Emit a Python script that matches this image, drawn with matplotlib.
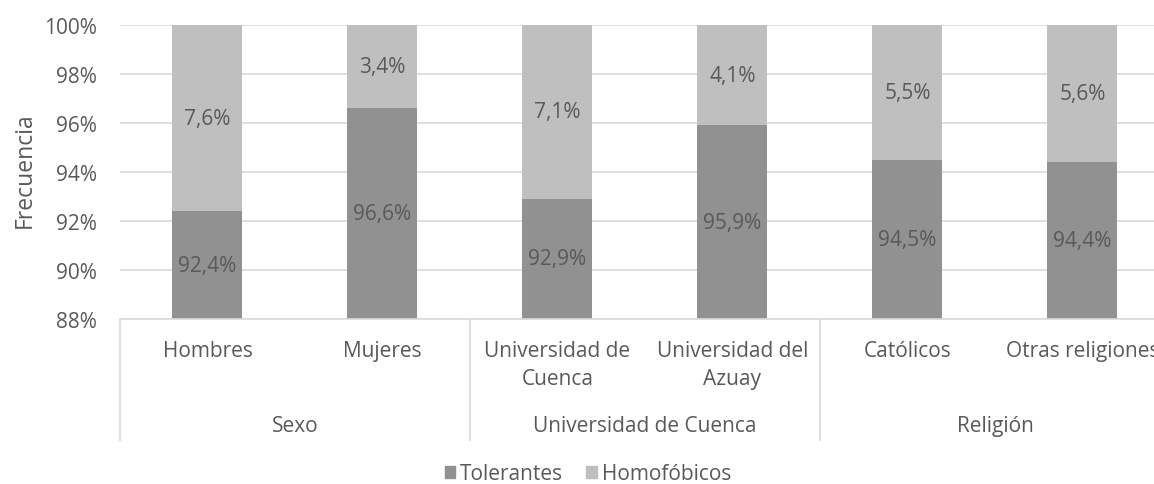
import matplotlib
matplotlib.use("Agg")
import matplotlib.pyplot as plt
import matplotlib.transforms as mtransforms
from matplotlib.patches import Patch

categories = ["Hombres", "Mujeres", "Universidad de\nCuenca", "Universidad del\nAzuay", "Católicos", "Otras religiones"]
groups = ["Sexo", "Universidad de Cuenca", "Religión"]
group_sizes = [2, 2, 2]
tolerantes = [92.4, 96.6, 92.9, 95.9, 94.5, 94.4]
homofobicos = [7.6, 3.4, 7.1, 4.1, 5.5, 5.6]
tol_labels = ["92,4%", "96,6%", "92,9%", "95,9%", "94,5%", "94,4%"]
hom_labels = ["7,6%", "3,4%", "7,1%", "4,1%", "5,5%", "5,6%"]
yticks = [88, 90, 92, 94, 96, 98, 100]

plt.rcParams['font.family'] = ['Open Sans', 'DejaVu Sans']
TXT = "#595959"
DARK = "#919191"
LIGHT = "#bfbfbf"
GRID = "#d9d9d9"
FS = 15

W, H = 1154, 485
fig = plt.figure(figsize=(W/100, H/100), dpi=100)
AX_L, AX_T, AX_W, AX_H = 120, 26, 1050, 294
ax = fig.add_axes([AX_L/W, 1-(AX_T+AX_H)/H, AX_W/W, AX_H/H])

x = list(range(len(categories)))
ymin, ymax = 88, 100
ax.bar(x, tolerantes, width=0.4, color=DARK, zorder=2)
ax.bar(x, homofobicos, bottom=tolerantes, width=0.4, color=LIGHT, zorder=2)

for i in x:
    ax.text(i, (ymin + tolerantes[i]) / 2, tol_labels[i],
            ha="center", va="center", fontsize=FS, color=TXT, zorder=3)
    top = min(ymax, tolerantes[i] + homofobicos[i])
    ax.text(i, (tolerantes[i] + top) / 2, hom_labels[i],
            ha="center", va="center", fontsize=FS, color=TXT, zorder=3)

ax.set_ylim(ymin, ymax)
ax.set_xlim(-0.5, len(categories) - 0.5)
ax.set_yticks(yticks)
ax.set_yticklabels([f"{t}%" for t in yticks])
ax.yaxis.grid(True, color=GRID, linewidth=1.2, zorder=0)
ax.set_axisbelow(True)
ax.tick_params(axis="y", length=0, pad=16.5, labelsize=FS, labelcolor=TXT)
ax.set_xticks([])
for s in ["top", "right", "left"]:
    ax.spines[s].set_visible(False)
ax.spines["bottom"].set_color(GRID)
ax.spines["bottom"].set_linewidth(1.2)
ax.set_ylabel("Frecuencia", fontsize=16.5, color=TXT)
ax.yaxis.set_label_coords((37 - AX_L) / AX_W, (AX_T + AX_H - 170) / AX_H)

def ay(py):
    return (AX_T + AX_H - py) / AX_H

trans = mtransforms.blended_transform_factory(ax.transData, ax.transAxes)
line_y = [352, 380]
for i, c in enumerate(categories):
    for k, line in enumerate(c.split("\n")):
        ax.text(i, ay(line_y[k]), line, transform=trans, ha="center", va="center",
                fontsize=FS, color=TXT, clip_on=False)

start = 0
for g, n in zip(groups, group_sizes):
    ax.plot([start - 0.5, start - 0.5], [0, ay(442)], transform=trans, color=GRID,
            linewidth=1.2, clip_on=False, solid_capstyle="butt")
    ax.text(start + (n - 1) / 2, ay(427), g, transform=trans, ha="center", va="center",
            fontsize=FS, color=TXT, clip_on=False)
    start += n

handles = [Patch(color=DARK, label="Tolerantes"), Patch(color=LIGHT, label="Homofóbicos")]
fig.legend(handles=handles, loc="center", bbox_to_anchor=(588/W, 1-475/H), ncol=2,
           frameon=False, fontsize=FS, labelcolor=TXT, handlelength=0.5, handleheight=0.5,
           handletextpad=0.25, columnspacing=1.1, borderpad=0, borderaxespad=0)

fig.savefig("out.png", dpi=100)
